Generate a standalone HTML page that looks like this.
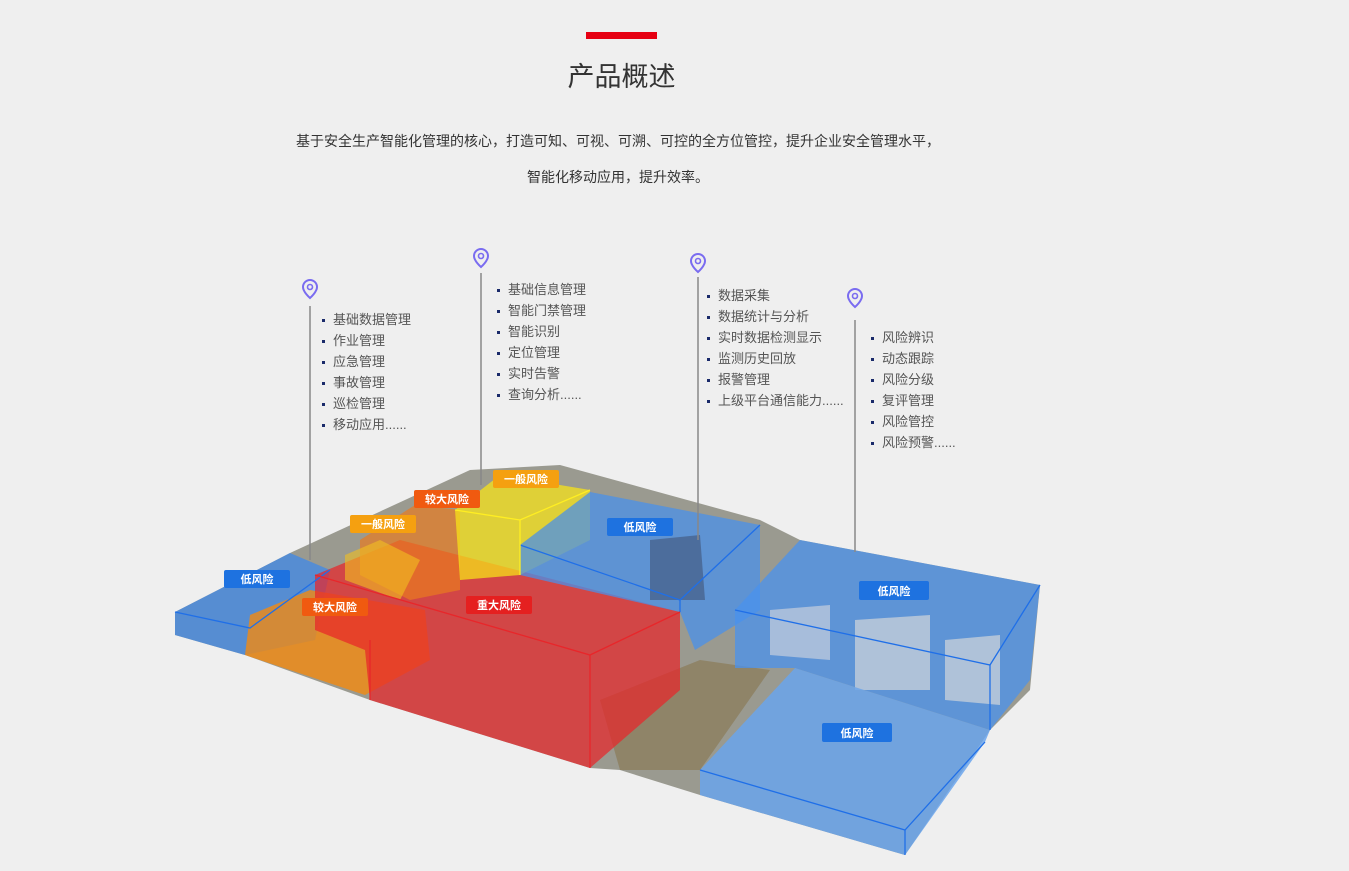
<!DOCTYPE html>
<html><head><meta charset="utf-8"><style>
body{margin:0;width:1349px;height:871px;background:#efefef;font-family:"Liberation Sans","Noto Sans CJK SC",sans-serif;overflow:hidden;position:relative}
.bar{position:absolute;left:586px;top:32px;width:71px;height:7px;background:#e60012}
.t{position:absolute;left:0;width:1243px;text-align:center;top:55px;font-size:27px;color:#333}
.d{position:absolute;left:0;width:1236px;text-align:center;font-size:14px;color:#333}
ul{position:absolute;margin:0;padding:0;list-style:none;font-size:13px;color:#555}
li{height:21px;line-height:21px;padding-left:11px;position:relative}
li:before{content:"";position:absolute;left:0;top:10px;width:3px;height:3px;background:#1a2a6a}
svg{position:absolute;left:0;top:0}
</style></head><body>
<div class="bar"></div>
<div class="t">产品概述</div>
<div class="d" style="top:131px">基于安全生产智能化管理的核心，打造可知、可视、可溯、可控的全方位管控，提升企业安全管理水平，</div>
<div class="d" style="top:167px">智能化移动应用，提升效率。</div>
<svg width="1349" height="871" viewBox="0 0 1349 871">
<defs>
<g id="pin"><path d="M0,-9a7,7 0 0 1 7,7c0,5 -7,11 -7,11c0,0 -7,-6 -7,-11a7,7 0 0 1 7,-7z" fill="none" stroke="#7a6cf0" stroke-width="2"/><circle cx="0" cy="-2" r="2.5" fill="none" stroke="#7a6cf0" stroke-width="1.6"/></g>
</defs>
<!-- ground -->
<polygon points="175,612 290,553 470,470 560,465 760,520 800,540 1040,585 1030,690 990,730 905,855 700,795 620,770 590,768 370,700 245,655 175,635" fill="#9a9a90"/>
<polygon points="600,700 700,660 770,670 700,770 620,770" fill="#8f8468"/>
<!-- left blue slab -->
<polygon points="175,612 290,553 330,570 315,640 245,655 175,635" fill="#3f88e8" opacity=".75"/>
<!-- orange left -->
<polygon points="250,615 310,590 425,610 430,660 365,695 245,655" fill="#f28a10" opacity=".8"/>
<!-- big red -->
<polygon points="315,575 400,540 680,612 680,690 590,768 370,700 365,650 315,630" fill="#e8262a" opacity=".72"/>
<!-- orange small -->
<polygon points="360,540 415,505 460,510 460,590 410,600 360,575" fill="#e87a20" opacity=".7"/>
<!-- yellow -->
<polygon points="455,510 500,475 590,490 590,540 520,575 460,580" fill="#f5e21a" opacity=".75"/>
<polygon points="345,555 380,540 420,560 400,600 345,580" fill="#f2c020" opacity=".6"/>
<!-- blue middle -->
<polygon points="520,545 590,492 760,525 760,610 695,650 680,612 520,575" fill="#4a90ea" opacity=".75"/>
<polygon points="650,540 700,535 705,600 650,600" fill="#47648e" opacity=".8"/>
<!-- right big blue -->
<polygon points="735,610 800,540 1040,585 1030,680 990,730 795,668 735,668" fill="#4a92ee" opacity=".75"/>
<polygon points="770,610 830,605 830,660 770,655" fill="#b9c7dc" opacity=".8"/>
<polygon points="855,620 930,615 930,690 855,690" fill="#c3cdd9" opacity=".8"/>
<polygon points="945,640 1000,635 1000,705 945,700" fill="#c3cdd9" opacity=".8"/>
<!-- lower blue -->
<polygon points="700,770 795,668 990,730 985,742 905,855 700,795" fill="#6aa4ec" opacity=".85"/>
<g fill="none" stroke="#1f6fe8" stroke-width="1.3">
<polyline points="735,610 990,665 1040,585"/><line x1="990" y1="665" x2="990" y2="730"/>
<polyline points="700,770 905,830 985,742"/><line x1="905" y1="830" x2="905" y2="855"/>
<polyline points="520,545 680,600 760,525"/><line x1="680" y1="600" x2="680" y2="612"/>
<polyline points="175,612 250,628 330,570"/>
</g>
<g fill="none" stroke="#e8262a" stroke-width="1.3"><polyline points="315,575 590,655 680,612"/><line x1="590" y1="655" x2="590" y2="768"/><line x1="370" y1="640" x2="370" y2="700"/></g>
<g fill="none" stroke="#ffee22" stroke-width="1.3"><polyline points="455,510 520,520 590,490"/><line x1="520" y1="520" x2="520" y2="575"/></g>
<!-- lines & pins -->
<g stroke="#888" stroke-width="1.5"><line x1="310" y1="306" x2="310" y2="560"/><line x1="481" y1="273" x2="481" y2="485"/><line x1="698" y1="277" x2="698" y2="540"/><line x1="855" y1="320" x2="855" y2="552"/></g>
<use href="#pin" x="310" y="289"/><use href="#pin" x="481" y="258"/><use href="#pin" x="698" y="263"/><use href="#pin" x="855" y="298"/>
<!-- tags -->
<g font-size="11" font-weight="bold" fill="#fff" text-anchor="middle" font-family="Liberation Sans,Noto Sans CJK SC,sans-serif">
<rect x="224" y="570" width="66" height="18" rx="2" fill="#1e72e0"/><text x="257" y="583">低风险</text>
<rect x="302" y="598" width="66" height="18" rx="2" fill="#f05a10"/><text x="335" y="611">较大风险</text>
<rect x="350" y="515" width="66" height="18" rx="2" fill="#f5a010"/><text x="383" y="528">一般风险</text>
<rect x="414" y="490" width="66" height="18" rx="2" fill="#f05a10"/><text x="447" y="503">较大风险</text>
<rect x="493" y="470" width="66" height="18" rx="2" fill="#f5a010"/><text x="526" y="483">一般风险</text>
<rect x="466" y="596" width="66" height="18" rx="2" fill="#e52020"/><text x="499" y="609">重大风险</text>
<rect x="607" y="518" width="66" height="18" rx="2" fill="#1e72e0"/><text x="640" y="531">低风险</text>
<rect x="859" y="581" width="70" height="19" rx="2" fill="#1e72e0"/><text x="894" y="595">低风险</text>
<rect x="822" y="723" width="70" height="19" rx="2" fill="#1e72e0"/><text x="857" y="737">低风险</text>
</g>
</svg>
<ul style="left:322px;top:309px"><li>基础数据管理</li><li>作业管理</li><li>应急管理</li><li>事故管理</li><li>巡检管理</li><li>移动应用......</li></ul>
<ul style="left:497px;top:279px"><li>基础信息管理</li><li>智能门禁管理</li><li>智能识别</li><li>定位管理</li><li>实时告警</li><li>查询分析......</li></ul>
<ul style="left:707px;top:285px"><li>数据采集</li><li>数据统计与分析</li><li>实时数据检测显示</li><li>监测历史回放</li><li>报警管理</li><li>上级平台通信能力......</li></ul>
<ul style="left:871px;top:327px"><li>风险辨识</li><li>动态跟踪</li><li>风险分级</li><li>复评管理</li><li>风险管控</li><li>风险预警......</li></ul>
</body></html>
